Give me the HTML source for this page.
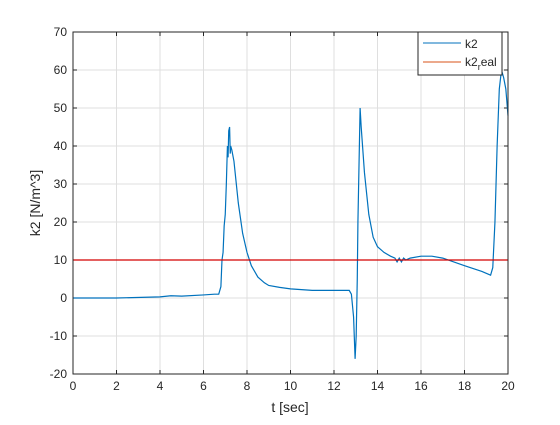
<!DOCTYPE html>
<html><head><meta charset="utf-8"><style>
body{margin:0;background:#fff;font-family:"Liberation Sans",sans-serif}
svg text{font-family:"Liberation Sans",sans-serif;fill:#262626}
</style></head><body>
<svg id="chart" width="560" height="420" xmlns="http://www.w3.org/2000/svg">
<rect width="560" height="420" fill="#fff"/>
<rect x="73" y="32" width="435" height="342" fill="#fff"/>
<g id="grid"></g><g id="ticks"></g><g id="series"></g>
<rect x="73" y="32" width="435" height="342" fill="none" stroke="#262626" stroke-width="1"/>
<text x="290" y="412" text-anchor="middle" font-size="14">t [sec]</text>
<text transform="translate(40,203) rotate(-90)" text-anchor="middle" font-size="14">k2 [N/m^3]</text>
<g>
<rect x="418" y="32" width="84" height="43" fill="#fff" stroke="#262626" stroke-width="1"/>
<line x1="423" y1="43" x2="461" y2="43" stroke="#0072bd" stroke-width="1"/>
<text x="465" y="48" font-size="12">k2</text>
<line x1="423" y1="62" x2="461" y2="62" stroke="#d95319" stroke-width="1"/>
<text x="465" y="66" font-size="12">k2<tspan font-size="9" dy="4">r</tspan><tspan dy="-4">eal</tspan></text>
</g>
</svg>
<script>
const xTicks=[0,2,4,6,8,10,12,14,16,18,20];
const yTicks=[-20,-10,0,10,20,30,40,50,60,70];
const tVals=[0,2,4,4.5,5,6,6.5,6.7,6.8,6.85,6.9,6.95,7.0,7.05,7.1,7.13,7.16,7.2,7.23,7.25,7.3,7.4,7.6,7.8,8.0,8.2,8.5,8.8,9,9.5,10,11,12,12.7,12.8,12.9,12.97,13.02,13.07,13.1,13.15,13.2,13.25,13.4,13.6,13.8,14,14.3,14.6,14.8,14.9,15,15.1,15.2,15.3,15.5,16,16.5,17,18,18.8,19,19.2,19.3,19.4,19.5,19.6,19.7,19.8,19.9,20];
const k2Vals=[0,0,0.3,0.6,0.5,0.8,1,1,3,10,12,19,22,30,40,37,44,45,38,40,39,36,25,17,12,8.5,5.5,4,3.3,2.8,2.4,2,2,2,1,-5,-16,-10,5,20,35,50,45,33,22,16,13.5,12,11,10.5,9.5,10.5,9.5,10.5,10,10.5,11,11,10.5,8.5,7,6.5,6,8,20,40,55,60,58,55,48];
const k2Real=10;
const xMin=0,xMax=20,yMin=-20,yMax=70,L=73,R=508,T=32,B=374;
const X=v=>L+(v-xMin)/(xMax-xMin)*(R-L), Y=v=>B-(v-yMin)/(yMax-yMin)*(B-T);
const NS="http://www.w3.org/2000/svg";
function mk(tag,a,p){const e=document.createElementNS(NS,tag);for(const k in a)e.setAttribute(k,a[k]);p.appendChild(e);return e;}
const grid=document.getElementById('grid'),ticks=document.getElementById('ticks'),series=document.getElementById('series');
xTicks.forEach(v=>{const x=X(v);
 const g=mk('line',{x1:x,x2:x,y1:T,y2:B,stroke:'#dfdfdf','stroke-width':1},grid);
 
 
 mk('line',{x1:x,x2:x,y1:B,y2:B-4,stroke:'#262626'},ticks);
 mk('line',{x1:x,x2:x,y1:T,y2:T+4,stroke:'#262626'},ticks);
 const t=mk('text',{x:x,y:B+16,'text-anchor':'middle','font-size':12},ticks);t.textContent=v;
 
 
});
yTicks.forEach(v=>{const y=Y(v);
 const g=mk('line',{x1:L,x2:R,y1:y,y2:y,stroke:'#dfdfdf','stroke-width':1},grid);
 
 
 mk('line',{x1:L,x2:L+4,y1:y,y2:y,stroke:'#262626'},ticks);
 mk('line',{x1:R,x2:R-4,y1:y,y2:y,stroke:'#262626'},ticks);
 const t=mk('text',{x:L-6,y:y+4,'text-anchor':'end','font-size':12},ticks);t.textContent=v;
 
 
});
const p=mk('polyline',{points:tVals.map((t,i)=>X(t)+','+Y(k2Vals[i])).join(' '),fill:'none',stroke:'#0072bd','stroke-width':1.2},series);


const r=mk('line',{x1:X(xMin),x2:X(xMax),y1:Y(k2Real),y2:Y(k2Real),stroke:'#d40000','stroke-width':1.2},series);


</script>
</body></html>
